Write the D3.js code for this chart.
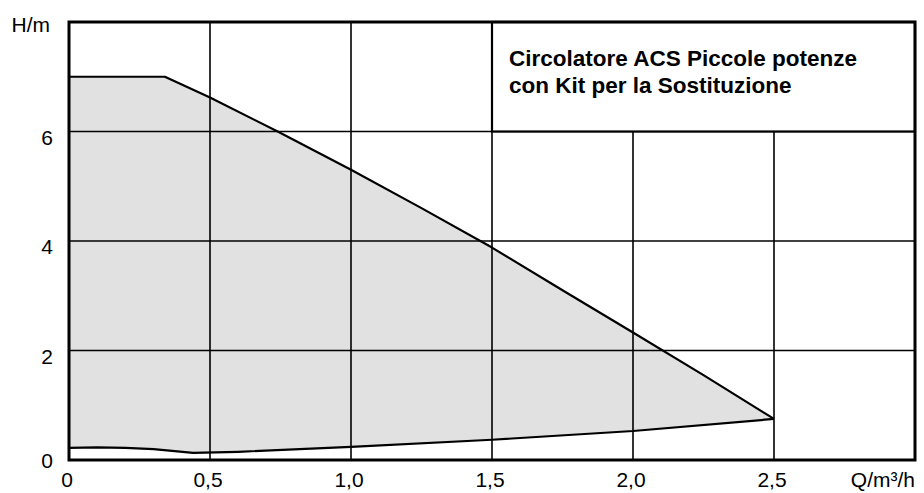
<!DOCTYPE html>
<html>
<head>
<meta charset="utf-8">
<script src="https://cdn.jsdelivr.net/npm/d3@7"></script>
<style>
  body { margin: 0; background: #fff; }
  text { font-family: "Liberation Sans", Arial, sans-serif; fill: #000; }
</style>
</head>
<body>
<div id="chart"></div>
<script>
// Pump curve envelope (Q in m3/h, H in m)
const upperQ = [0, 0.34, 0.5, 0.74, 1.0, 1.25, 1.5, 1.75, 2.0, 2.25, 2.5];
const upperH = [7.0, 7.0, 6.62, 6.0, 5.3, 4.6, 3.88, 3.1, 2.33, 1.55, 0.75];
const lowerQ = [0, 0.1, 0.2, 0.3, 0.44, 0.6, 1.0, 1.5, 2.0, 2.5];
const lowerH = [0.22, 0.23, 0.22, 0.2, 0.13, 0.15, 0.24, 0.37, 0.53, 0.75];
const xTicks = [0, 0.5, 1.0, 1.5, 2.0, 2.5];
const xTickLabels = ["0", "0,5", "1,0", "1,5", "2,0", "2,5"];
const yTicks = [0, 2, 4, 6];
const titleLines = ["Circolatore ACS Piccole potenze", "con Kit per la Sostituzione"];

const width = 924, height = 493;
const margin = { top: 22, right: 9, bottom: 33, left: 69 };
const plotW = width - margin.left - margin.right;
const plotH = height - margin.top - margin.bottom;

var x = d3.scaleLinear().domain([0, 3]).range([0, plotW]);
var y = d3.scaleLinear().domain([0, 8]).range([plotH, 0]);

const svg = d3.select("#chart").append("svg")
    .attr("width", width)
    .attr("height", height)
  .append("g")
    .attr("transform", "translate(" + margin.left + "," + margin.top + ")");

// Filled region between upper and lower curves
const upper = upperQ.map((q, i) => [q, upperH[i]]);
const lower = lowerQ.map((q, i) => [q, lowerH[i]]);
const outline = upper.concat(lower.slice().reverse());
const line = d3.line().x(d => x(d[0])).y(d => y(d[1]));

svg.append("path")
    .attr("d", line(outline) + "Z")
    .attr("fill", "#e1e1e1")
    .attr("stroke", "none");

// Grid
svg.append("g")
    .selectAll("line")
    .data(xTicks.slice(1))
    .join("line")
    .attr("x1", d => x(d)).attr("x2", d => x(d))
    .attr("y1", 0).attr("y2", plotH)
    .attr("stroke", "#000").attr("stroke-width", 1.6);
svg.append("g")
    .selectAll("line")
    .data(yTicks.slice(1))
    .join("line")
    .attr("x1", 0).attr("x2", plotW)
    .attr("y1", d => y(d)).attr("y2", d => y(d))
    .attr("stroke", "#000").attr("stroke-width", 1.6);

// Curves
svg.append("path")
    .attr("d", line(upper))
    .attr("fill", "none").attr("stroke", "#000").attr("stroke-width", 2.2)
    .attr("stroke-linejoin", "round");
svg.append("path")
    .attr("d", line(lower))
    .attr("fill", "none").attr("stroke", "#000").attr("stroke-width", 2.2)
    .attr("stroke-linejoin", "round");

// Title box in the upper-right corner
svg.append("rect")
    .attr("x", x(1.5)).attr("y", y(8))
    .attr("width", x(3) - x(1.5)).attr("height", y(6) - y(8))
    .attr("fill", "#fff").attr("stroke", "#000").attr("stroke-width", 2.2);
svg.append("g")
    .selectAll("text")
    .data(titleLines)
    .join("text")
    .attr("x", x(1.5) + 17)
    .attr("y", (d, i) => y(8) + 44 + i * 27)
    .style("font-size", "22.5px")
    .style("font-weight", "bold")
    .text(d => d);

// Frame
svg.append("rect")
    .attr("x", 0).attr("y", 0)
    .attr("width", plotW).attr("height", plotH)
    .attr("fill", "none").attr("stroke", "#000").attr("stroke-width", 3);

// Tick labels
svg.append("g")
    .selectAll("text")
    .data(xTicks)
    .join("text")
    .attr("x", d => x(d) - 2)
    .attr("y", plotH + 27)
    .attr("text-anchor", "middle")
    .style("font-size", "21px")
    .text((d, i) => xTickLabels[i]);
svg.append("g")
    .selectAll("text")
    .data(yTicks)
    .join("text")
    .attr("x", -16)
    .attr("y", d => y(d) + (d === 0 ? 8 : 13))
    .attr("text-anchor", "end")
    .style("font-size", "21px")
    .text(d => d);

svg.append("text")
    .attr("x", -19).attr("y", 10)
    .attr("text-anchor", "end")
    .style("font-size", "21px")
    .text("H/m");
svg.append("text")
    .attr("x", plotW).attr("y", plotH + 27)
    .attr("text-anchor", "end")
    .style("font-size", "21px")
    .text("Q/m³/h");
</script>
</body>
</html>
